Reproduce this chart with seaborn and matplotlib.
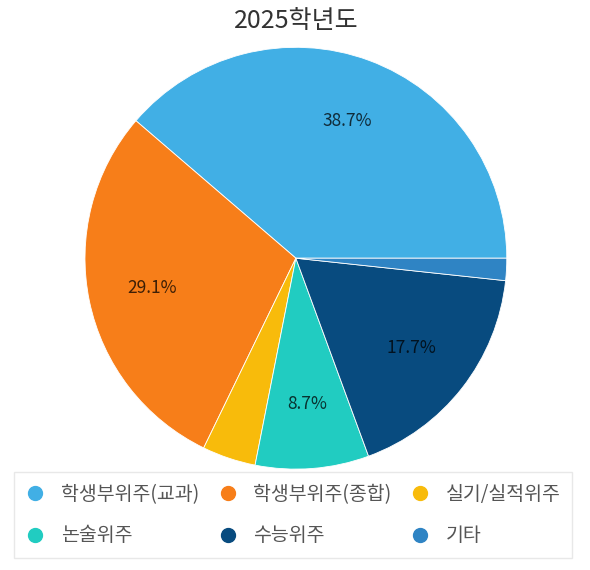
import matplotlib
matplotlib.use("Agg")
import matplotlib.pyplot as plt
from matplotlib.lines import Line2D
import seaborn as sns

categories = ["학생부위주(교과)", "학생부위주(종합)", "실기/실적위주", "논술위주", "수능위주", "기타"]
values = [38.7, 29.1, 4.1, 8.7, 17.7, 1.7]
colors = ["#41AFE5", "#F77E19", "#F8BB0B", "#21CCC1", "#084B7F", "#2F84C4"]
title = "2025학년도"

sns.set_theme(style="white")
plt.rcParams['font.family'] = ['Noto Sans CJK KR', 'DejaVu Sans']

palette = sns.color_palette(colors)

fig = plt.figure(figsize=(5.9, 5.7), dpi=100)
ax = fig.add_axes([0.144, 0.177, 0.715, 0.740])

def fmt(p):
    return f"{p:.1f}%" if p >= 5 else ""

wedges, texts, autotexts = ax.pie(
    values, colors=palette, startangle=0, counterclock=True,
    autopct=fmt, pctdistance=0.695,
    wedgeprops=dict(linewidth=0.6, edgecolor="white"),
    textprops=dict(fontsize=12.5, color="black", alpha=0.75),
)
ax.set_xlim(-1.0, 1.0)
ax.set_ylim(-1.0, 1.0)
ax.set_aspect("equal")

fig.text(0.502, 0.964, title, ha="center", va="center", fontsize=18, color="#333333")

handles = [Line2D([0], [0], marker="o", linestyle="", markersize=10,
                  markerfacecolor=c, markeredgecolor=c) for c in palette]
order = [0, 3, 1, 4, 2, 5]
leg = fig.legend([handles[i] for i in order], [categories[i] for i in order],
                 ncol=3, loc="lower left", mode="expand",
                 bbox_to_anchor=(14 / 590, 12 / 570, 558 / 590, 84 / 570),
                 frameon=True, fancybox=False,
                 edgecolor="#e3e3e3", fontsize=14, labelcolor="#555555",
                 handletextpad=0.8, columnspacing=1.0, borderpad=0.6,
                 labelspacing=1.05, handlelength=1.0, borderaxespad=0)
leg.get_frame().set_linewidth(1.0)

fig.savefig("out.png", dpi=100, facecolor="white")
